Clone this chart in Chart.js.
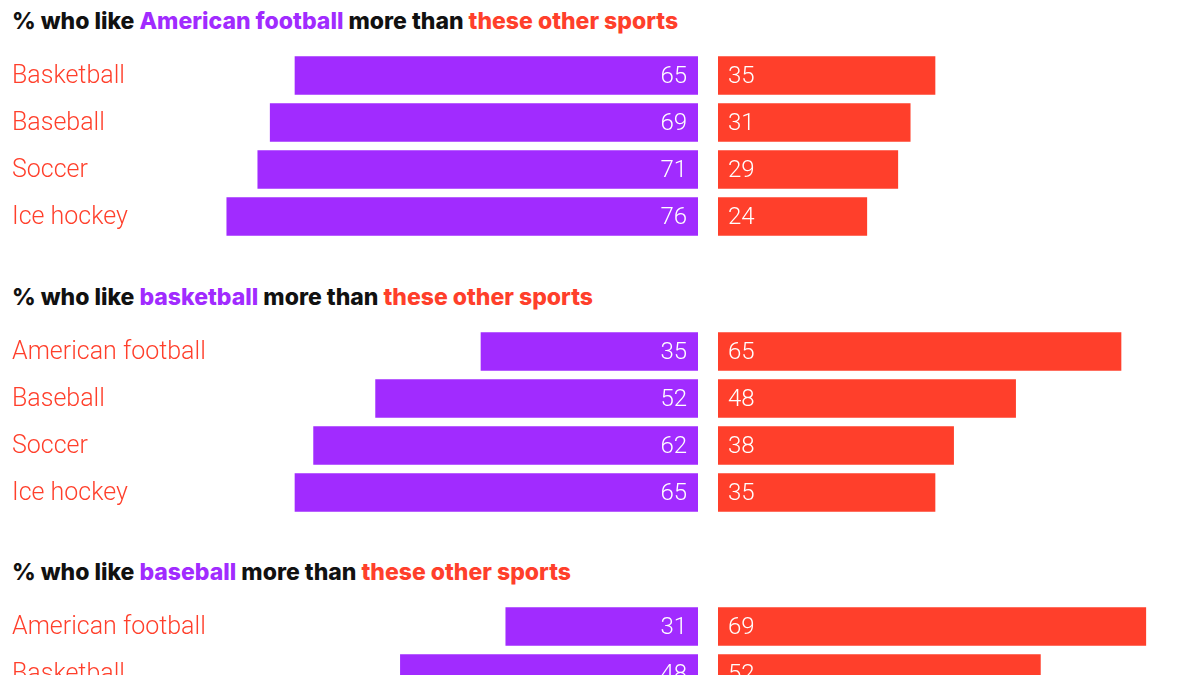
<!DOCTYPE html>
<html>
<head>
<meta charset="utf-8">
<script src="https://cdn.jsdelivr.net/npm/chart.js@4"></script>
<style>
  html, body { margin: 0; padding: 0; background: #fff; width: 1200px; height: 675px; overflow: hidden; }
  .panel { position: absolute; left: 0; width: 1200px; height: 275px; }
  .title { position: absolute; left: 12px; top: 7px; font-family: Inter, sans-serif; font-weight: 800;
           font-size: 23px; line-height: 28px; color: #111; white-space: nowrap; }
  .fav { color: #a12bff; }
  .oth { color: #ff3f2b; }
  .wrap { position: absolute; top: 52px; height: 188px; }
</style>
</head>
<body>
<div id="root"></div>
<script>
// === Datos ===
const favoritos = ["American football", "basketball", "baseball"];

const categorias1 = ["Basketball", "Baseball", "Soccer", "Ice hockey"];
const favorito1 = [65, 69, 71, 76];
const otros1 = [35, 31, 29, 24];

const categorias2 = ["American football", "Baseball", "Soccer", "Ice hockey"];
const favorito2 = [35, 52, 62, 65];
const otros2 = [65, 48, 38, 35];

const categorias3 = ["American football", "Basketball", "Soccer", "Ice hockey"];
const favorito3 = [31, 48, 60, 63];
const otros3 = [69, 52, 40, 37];

const paneles = [
    { fav: favoritos[0], cats: categorias1, a: favorito1, b: otros1 },
    { fav: favoritos[1], cats: categorias2, a: favorito2, b: otros2 },
    { fav: favoritos[2], cats: categorias3, a: favorito3, b: otros3 },
];

const MORADO = "#a12bff";
const ROJO = "#ff3f2b";
const PX_POR_UNIDAD = 6.2;
const ANCHO_IZQ = 698;
const ANCHO_DER = 482;

// etiquetas: categorías a la izquierda y valores blancos dentro de las barras
const etiquetasBarras = {
    id: "etiquetasBarras",
    afterDatasetsDraw(chart, args, opts) {
        const ctx = chart.ctx;
        const meta = chart.getDatasetMeta(0);
        const valores = chart.data.datasets[0].data;
        const ejeY = chart.scales.y;
        ctx.save();
        ctx.textBaseline = "middle";
        meta.data.forEach((bar, i) => {
            ctx.font = "300 24px Roboto";
            ctx.fillStyle = "#fff";
            if (opts.lado === "izq") {
                ctx.textAlign = "right";
                ctx.fillText(valores[i], bar.base - 11, bar.y + 1);
                // nombre de la categoría
                ctx.font = "300 25px Roboto";
                ctx.fillStyle = ROJO;
                ctx.textAlign = "left";
                ctx.fillText(chart.data.labels[i], 12, ejeY.getPixelForValue(i) + 1);
            } else {
                ctx.textAlign = "left";
                ctx.fillText(valores[i], bar.base + 10, bar.y + 1);
            }
        });
        ctx.restore();
    },
};

function crearGrafica(canvas, cats, datos, color, lado, ancho) {
    return new Chart(canvas.getContext("2d"), {
        type: "bar",
        data: {
            labels: cats,
            datasets: [
                {
                    data: datos,
                    backgroundColor: color,
                    borderWidth: 0,
                    barThickness: 38,
                },
            ],
        },
        options: {
            indexAxis: "y",
            responsive: true,
            maintainAspectRatio: false,
            animation: false,
            layout: { padding: 0 },
            plugins: {
                legend: { display: false },
                tooltip: { enabled: false },
                etiquetasBarras: { lado: lado },
            },
            scales: {
                x: {
                    display: false,
                    reverse: lado === "izq",
                    min: 0,
                    max: ancho / PX_POR_UNIDAD,
                },
                y: {
                    display: false,
                },
            },
        },
        plugins: [etiquetasBarras],
    });
}

const root = document.getElementById("root");
paneles.forEach((p, k) => {
    const panel = document.createElement("div");
    panel.className = "panel";
    panel.style.top = k * 275.5 + "px";

    const titulo = document.createElement("div");
    titulo.className = "title";
    titulo.innerHTML =
        '% who like <span class="fav">' + p.fav +
        '</span> more than <span class="oth">these other sports</span>';
    panel.appendChild(titulo);

    const wIzq = document.createElement("div");
    wIzq.className = "wrap";
    wIzq.style.left = "0px";
    wIzq.style.width = ANCHO_IZQ + "px";
    const cIzq = document.createElement("canvas");
    wIzq.appendChild(cIzq);
    panel.appendChild(wIzq);

    const wDer = document.createElement("div");
    wDer.className = "wrap";
    wDer.style.left = "718px";
    wDer.style.width = ANCHO_DER + "px";
    const cDer = document.createElement("canvas");
    wDer.appendChild(cDer);
    panel.appendChild(wDer);

    root.appendChild(panel);

    crearGrafica(cIzq, p.cats, p.a, MORADO, "izq", ANCHO_IZQ);
    crearGrafica(cDer, p.cats, p.b, ROJO, "der", ANCHO_DER);
});
</script>
</body>
</html>
